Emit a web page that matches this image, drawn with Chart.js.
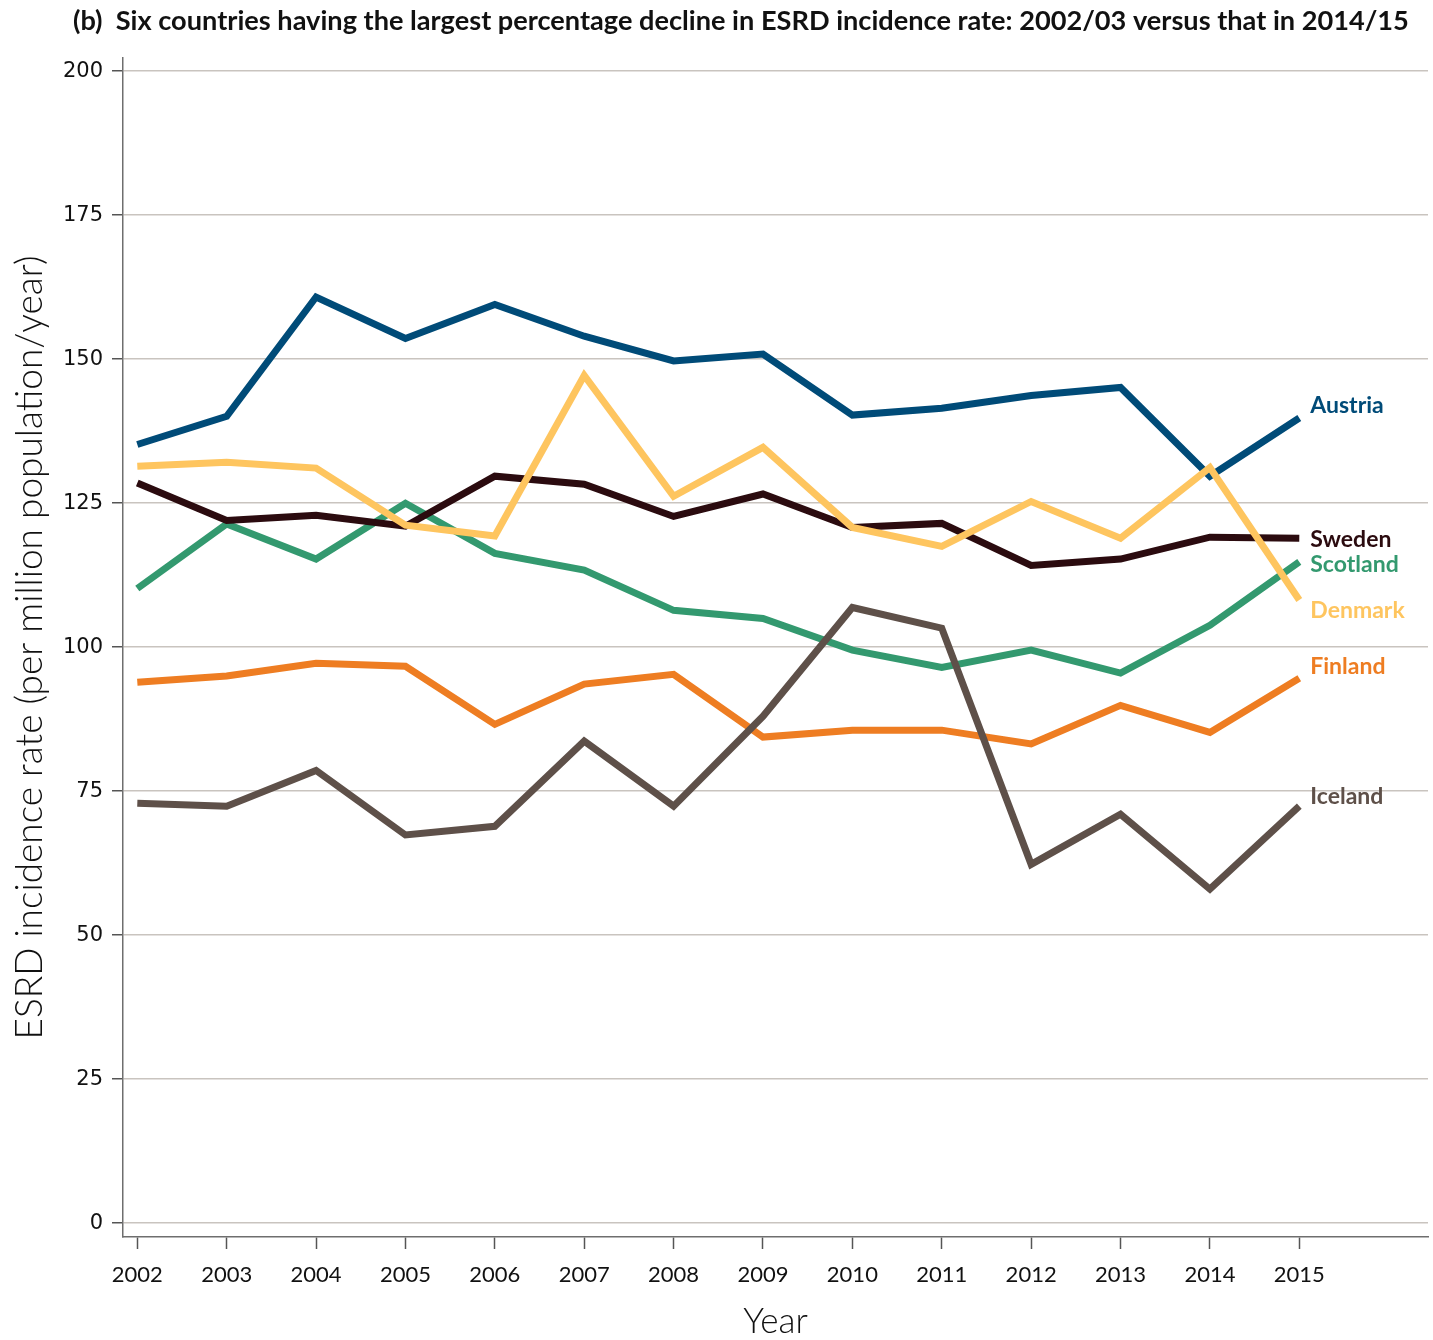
<!DOCTYPE html>
<html>
<head>
<meta charset="utf-8">
<title>ESRD incidence rate</title>
<script src="https://cdn.jsdelivr.net/npm/chart.js@4.4.1/dist/chart.umd.min.js"></script>
<style>
  html, body { margin: 0; padding: 0; background: #fff; }
  #wrap { width: 1433px; height: 1340px; }
</style>
</head>
<body>
<div id="wrap"><canvas id="chart" width="1433" height="1340"></canvas></div>
<script>
// Years on the x axis
const years = [2002, 2003, 2004, 2005, 2006, 2007, 2008, 2009, 2010, 2011, 2012, 2013, 2014, 2015];
const yTicks = [0, 25, 50, 75, 100, 125, 150, 175, 200];

// Incidence per million population per year, one array per country
const austria = [135.2, 140.1, 160.8, 153.6, 159.5, 154.0, 149.7, 150.9, 140.3, 141.5, 143.7, 145.1, 129.7, 139.8];
const sweden = [128.5, 122.0, 122.9, 121.0, 129.7, 128.3, 122.7, 126.6, 120.8, 121.5, 114.2, 115.3, 119.1, 118.9];
const scotland = [110.2, 121.4, 115.3, 125.0, 116.3, 113.4, 106.4, 105.0, 99.5, 96.5, 99.5, 95.5, 103.8, 114.8];
const denmark = [131.4, 132.1, 131.1, 121.2, 119.3, 147.2, 126.2, 134.7, 120.8, 117.5, 125.3, 118.9, 131.2, 108.2];
const finland = [93.9, 95.0, 97.2, 96.7, 86.6, 93.6, 95.3, 84.4, 85.6, 85.6, 83.2, 89.9, 85.2, 94.6];
const iceland = [72.9, 72.4, 78.6, 67.4, 68.9, 83.7, 72.4, 88.0, 106.9, 103.3, 62.3, 71.0, 58.0, 72.4];

const countries = ['Austria', 'Sweden', 'Scotland', 'Denmark', 'Finland', 'Iceland'];
const series = [austria, sweden, scotland, denmark, finland, iceland];
const colors = ['#004b78', '#2b0b0f', '#33996f', '#fec55f', '#ee7d22', '#5e5049'];
// lower number is drawn on top
const drawOrder = [3, 4, 5, 2, 6, 1];
// pixel nudge of each end label from the last point
const labelNudge = [-13, 0, 2, 10, -13, -11];

const titleText = '(b)  Six countries having the largest percentage decline in ESRD incidence rate: 2002/03 versus that in 2014/15';

const datasets = countries.map((name, i) => ({
  label: name,
  data: years.map((yr, j) => ({ x: yr, y: series[i][j] })),
  borderColor: colors[i],
  backgroundColor: colors[i],
  borderWidth: 7,
  pointRadius: 0,
  tension: 0,
  order: drawOrder[i],
}));

const whiteBg = {
  id: 'whiteBg',
  beforeDraw(chart) {
    const { ctx } = chart;
    ctx.save();
    ctx.fillStyle = '#fff';
    ctx.fillRect(0, 0, chart.width, chart.height);
    ctx.restore();
  },
};

// bold heading across the top, squeezed to a fixed width
const heading = {
  id: 'heading',
  afterDraw(chart) {
    const { ctx } = chart;
    ctx.save();
    let size = 24;
    ctx.font = `bold ${size}px Lato`;
    const w = ctx.measureText(titleText).width;
    size = size * 1337 / w;
    ctx.font = `bold ${size}px Lato`;
    ctx.fillStyle = '#111';
    ctx.textBaseline = 'middle';
    ctx.textAlign = 'left';
    ctx.fillText(titleText, 73, 21);
    ctx.restore();
  },
};

// country names next to the line ends
const endLabels = {
  id: 'endLabels',
  afterDatasetsDraw(chart) {
    const { ctx } = chart;
    ctx.save();
    ctx.font = 'bold 23px Lato';
    ctx.textBaseline = 'middle';
    ctx.textAlign = 'left';
    chart.data.datasets.forEach((ds, i) => {
      const meta = chart.getDatasetMeta(i);
      const last = meta.data[meta.data.length - 1];
      ctx.fillStyle = ds.borderColor;
      ctx.fillText(ds.label, last.x + 11, last.y + labelNudge[i] + 1);
    });
    ctx.restore();
  },
};

new Chart(document.getElementById('chart'), {
  type: 'line',
  data: { datasets },
  options: {
    responsive: false,
    animation: false,
    layout: { padding: { top: 58, right: 5, left: 0, bottom: 0 } },
    plugins: {
      legend: { display: false },
      tooltip: { enabled: false },
      title: { display: false },
    },
    scales: {
      x: {
        type: 'linear',
        min: 2001.84,
        max: 2016.44,
        afterBuildTicks: (scale) => { scale.ticks = years.map((v) => ({ value: v })); },
        afterFit: (scale) => { scale.height = 103; },
        border: { display: true, color: '#6e6e6e', width: 1.5 },
        grid: { drawOnChartArea: false, drawTicks: true, tickLength: 12, tickColor: '#555', tickWidth: 1.5 },
        ticks: {
          autoSkip: false,
          maxRotation: 0,
          padding: 13,
          color: '#111',
          font: { family: 'Lato', size: 22 },
          callback: (v) => String(v),
        },
        title: {
          display: true,
          text: 'Year',
          color: '#111',
          font: { family: 'Lato', size: 35, weight: 300, lineHeight: 1 },
          padding: { top: 0, bottom: 1 },
        },
      },
      y: {
        min: -2.4,
        max: 202.3,
        afterBuildTicks: (scale) => { scale.ticks = yTicks.map((v) => ({ value: v })); },
        afterFit: (scale) => { scale.width = 123; },
        border: { display: true, color: '#6e6e6e', width: 1.5 },
        grid: { color: '#c9c4bf', lineWidth: 1.5, drawTicks: true, tickLength: 11, tickColor: '#555', tickWidth: 1.5 },
        ticks: {
          padding: 9,
          color: '#111',
          font: { family: 'DejaVu Sans', size: 21 },
        },
        title: {
          display: true,
          text: 'ESRD incidence rate (per million population/year)',
          color: '#111',
          font: { family: 'Lato', size: 37, weight: 300, lineHeight: 1 },
          padding: { top: 12, bottom: 0 },
        },
      },
    },
  },
  plugins: [whiteBg, heading, endLabels],
});
</script>
</body>
</html>
